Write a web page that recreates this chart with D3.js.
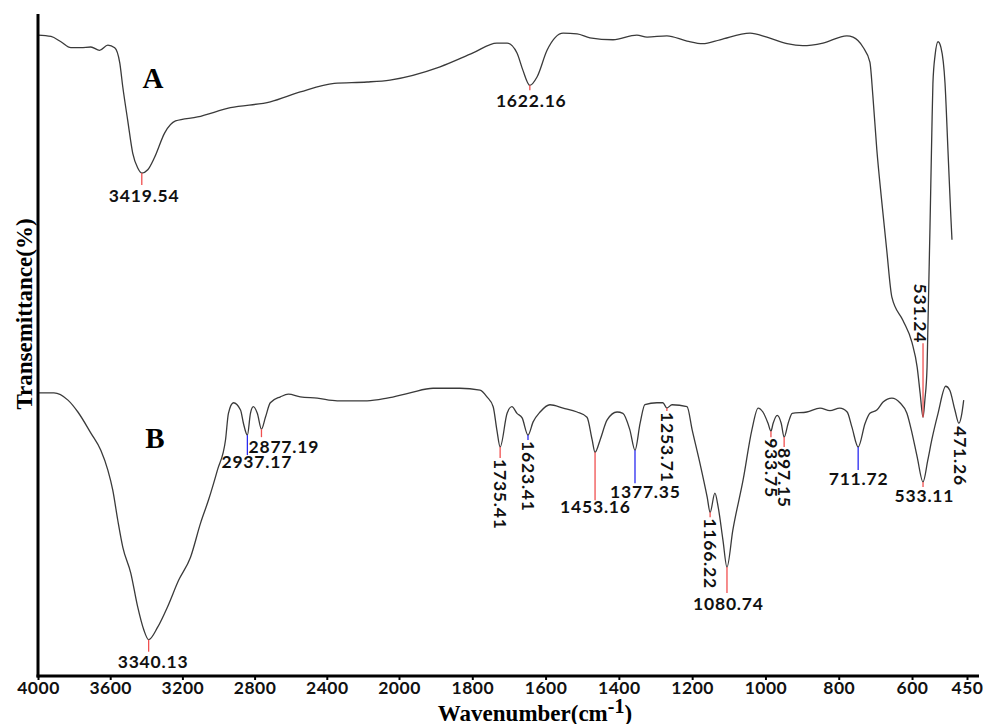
<!DOCTYPE html>
<html>
<head>
<meta charset="utf-8">
<script src="https://cdn.jsdelivr.net/npm/d3@7"></script>
<style>
  html, body { margin: 0; padding: 0; background: #fff; }
  svg { display: block; }
</style>
</head>
<body>
<div id="chart"></div>
<script>
// ---------------- DATA ----------------
// Curve A: wavenumber (cm-1) and transmittance (arbitrary %, offset spectrum)
const wnA = [4000,3928,3873,3818,3762,3707,3659,3613,3575,3547,3530,3503,3475,3448,3425,3392,3354,3298,3238,3116,2934,2713,2547,2359,2177,2050,
  1888,1798,1733,1705,1678,1662,1643,1623,1596,1552,1514,1479,1416,1351,1323,1269,1214,1171,1124,1042,996,941,898,843,778,761,734,715,707,696,683,669,655,
  625,600,586,578,570,565,559,557,554,551,546,543,537,529,521,510,502,494,491];
const tA = [97.1,96.9,96.1,95.2,95.2,95.3,94.8,95.6,95.2,92.9,89.2,84.2,79.2,77.0,76.2,76.7,78.6,82.3,84.1,84.7,86.1,87.0,88.5,89.8,90.0,90.3,
  92.3,94.4,95.9,95.9,94.4,91.8,89.5,90.8,94.8,97.4,97.3,96.7,96.4,97.1,96.8,97.0,96.2,95.8,96.4,97.4,96.8,95.8,95.5,95.9,97.0,96.8,95.3,93.0,88.0,79.7,72.1,64.5,57.4,
  53.9,50.5,46.8,42.9,39.2,41.8,46.8,52.0,60.0,68.0,82.3,89.8,94.1,96.1,95.2,89.8,79.7,69.5,66.1];

// Curve B
const wnB = [4000,3912,3834,3779,3707,3652,3613,3586,3558,3530,3486,3448,3414,3387,3337,3282,3221,3155,3099,3055,3006,2961,2945,2917,2878,2862,2840,2823,2807,2785,2762,2740,2713,2657,2613,2547,2453,2342,2177,2066,
  1970,1907,1834,1779,1760,1743,1733,1724,1705,1692,1678,1664,1648,1634,1615,1588,1552,1514,1487,1473,1465,1451,1432,1405,1389,1370,1356,1342,1329,1296,1280,1269,1255,1214,1200,1179,1159,1151,1138,1129,1116,1105,1089,1061,1037,1020,1007,993,985,979,968,957,949,938,927,887,851,824,797,777,764,747,728,715,696,679,655,633,614,600,586,570,557,546,529,508,497,483,472,464,459];
const tB = [42.9,42.9,41.8,40.0,36.8,34.2,31.2,28.2,23.6,19.5,15.6,10.5,7.0,5.5,7.4,10.5,14.5,18.0,23.2,26.7,31.2,35.8,39.8,41.4,40.3,38.3,36.5,39.8,40.8,39.8,37.4,39.2,41.4,42.3,42.7,42.3,42.1,41.7,41.7,42.1,
  42.9,43.6,43.6,43.3,42.3,40.8,37.3,34.7,39.8,40.8,39.8,39.1,36.5,38.5,40.0,41.1,40.6,40.0,39.2,35.8,33.9,35.8,38.8,40.0,39.8,37.3,34.2,38.3,41.1,41.4,41.4,40.6,41.1,40.8,37.3,32.3,27.1,24.8,27.7,25.6,20.6,16.5,22.1,29.7,37.3,40.6,40.0,38.3,37.1,38.3,39.5,38.3,36.2,38.3,39.8,40.0,40.6,40.2,40.6,40.0,37.7,34.7,38.3,39.8,40.3,41.5,42.1,41.4,39.8,36.8,33.2,29.4,32.7,35.8,39.8,43.9,43.3,40.3,38.3,39.8,41.8];

// Peak annotations
const peakSeries = ["A","A","A","B","B","B","B","B","B","B","B","B","B","B","B","B","B","B"];
const peakText   = ["3419.54","1622.16","531.24","3340.13","2937.17","2877.19","1735.41","1623.41","1453.16","1377.35","1253.71","1166.22","1080.74","933.75","897.15","711.72","533.11","471.26"];
const peakWn     = [3425,1643,570,3387,2840,2762,1724,1648,1465,1356,1269,1151,1105,985,949,747,570,472];

// Axis tick labels
const xTicks = [4000,3600,3200,2800,2400,2000,1800,1600,1400,1200,1000,800,600,450];
const seriesNames = ["A","B"];

// ---------------- LAYOUT / STYLE ----------------
const W = 983, H = 724;
const RED = "#f05050", BLUE = "#2a2af0";
// per-peak label layout: line length (px, + down), colour, orientation, label dx, gap
const peakLayout = [
  {len:12, c:RED, rot:false, dx:2, gap:17},
  {len:5,  c:RED, rot:false, dx:1, gap:17},
  {len:-74,c:RED, rot:true,  dx:-3, gap:0},
  {len:12, c:RED, rot:false, dx:4, gap:16},
  {len:20, c:BLUE,rot:false, dx:9, gap:13},
  {len:8,  c:RED, rot:false, dx:22, gap:16},
  {len:11, c:RED, rot:true,  dx:0, gap:1},
  {len:5,  c:BLUE,rot:true,  dx:0, gap:1},
  {len:48, c:RED, rot:false, dx:0, gap:13},
  {len:33, c:BLUE,rot:false, dx:10, gap:15},
  {len:3,  c:RED, rot:true,  dx:0, gap:1},
  {len:5,  c:RED, rot:true,  dx:0, gap:1},
  {len:26, c:RED, rot:false, dx:1, gap:17},
  {len:6,  c:RED, rot:true,  dx:0, gap:1},
  {len:10, c:RED, rot:true,  dx:0, gap:1},
  {len:23, c:BLUE,rot:false, dx:0, gap:15},
  {len:5,  c:RED, rot:false, dx:1, gap:15},
  {len:1,  c:"none", rot:true, dx:1, gap:2}
];

const svg = d3.select("#chart").append("svg")
  .attr("width", W).attr("height", H)
  .style("background", "#fff");

// Piecewise x scale (FTIR style: scale change at 2000 cm-1)
const x = d3.scaleLinear().domain([4000, 2000, 450]).range([38, 399, 967]);
const y = d3.scaleLinear().domain([0, 100]).range([676, 16]);

const line = d3.line().x(d => x(d[0])).y(d => y(d[1])).curve(d3.curveMonotoneX);

const seriesData = {
  A: wnA.map((w, i) => [w, tA[i]]),
  B: wnB.map((w, i) => [w, tB[i]])
};

// curves
svg.append("g").selectAll("path").data(seriesNames).join("path")
  .attr("d", s => line(seriesData[s]))
  .attr("fill", "none")
  .attr("stroke", "#3a3a3a")
  .attr("stroke-width", 1.3)
  .attr("stroke-linejoin", "round");

// series letters
const letterPos = {A: [3363, 89.1], B: [3352, 34.5]};
svg.append("g").selectAll("text").data(seriesNames).join("text")
  .attr("x", s => x(letterPos[s][0]))
  .attr("y", s => y(letterPos[s][1]))
  .attr("text-anchor", "middle")
  .attr("font-family", "'Liberation Serif', 'Times New Roman', serif")
  .attr("font-weight", "bold")
  .attr("font-size", 29)
  .attr("fill", "#000")
  .text(s => s);

// peak markers and labels
const labelFont = "Lato, 'Open Sans', sans-serif";
const pk = svg.append("g");
peakText.forEach((txt, i) => {
  const data = seriesData[peakSeries[i]];
  const pt = data.find(d => d[0] === peakWn[i]);
  const px = x(pt[0]), py = y(pt[1]);
  const L = peakLayout[i];
  const yEnd = py + L.len;
  if (L.c !== "none") {
    pk.append("line")
      .attr("x1", px).attr("x2", px)
      .attr("y1", py).attr("y2", yEnd)
      .attr("stroke", L.c).attr("stroke-width", 1.3);
  }
  const t = pk.append("text")
    .attr("font-family", labelFont)
    .attr("font-weight", "bold")
    .attr("font-size", 17.5)
    .attr("letter-spacing", "0.8px")
    .attr("fill", "#111")
    .text(txt);
  if (L.rot) {
    const ty = L.len < 0 ? yEnd - L.gap : yEnd + L.gap;
    t.attr("transform", `translate(${px + L.dx},${ty}) rotate(90)`)
     .attr("text-anchor", L.len < 0 ? "end" : "start")
     .attr("dy", "0.36em");
  } else {
    t.attr("x", px + L.dx + 0.4).attr("y", yEnd + L.gap)
     .attr("text-anchor", "middle");
  }
});

// axes
const xAxis = d3.axisBottom(x).tickValues(xTicks).tickFormat(d3.format("d"))
  .tickSize(4).tickSizeOuter(0).tickPadding(2);
const gx = svg.append("g").attr("transform", "translate(0,676)").call(xAxis);
gx.select(".domain").remove();
gx.selectAll(".tick line").attr("stroke", "#000").attr("stroke-width", 2);
gx.selectAll(".tick text")
  .attr("font-family", labelFont)
  .attr("font-weight", "bold")
  .attr("font-size", 17.5)
  .attr("letter-spacing", "0.5px")
  .attr("fill", "#111");

// axis lines (left and bottom)
svg.append("line").attr("x1", 38).attr("x2", 38).attr("y1", 14).attr("y2", 677.5)
  .attr("stroke", "#000").attr("stroke-width", 3);
svg.append("line").attr("x1", 36.5).attr("x2", 979).attr("y1", 676).attr("y2", 676)
  .attr("stroke", "#000").attr("stroke-width", 3);

// axis titles
const xt = svg.append("text")
  .attr("x", 535).attr("y", 720.5)
  .attr("text-anchor", "middle")
  .attr("font-family", "'Liberation Serif', 'Times New Roman', serif")
  .attr("font-weight", "bold")
  .attr("font-size", 23)
  .attr("fill", "#000");
xt.append("tspan").text("Wavenumber(cm");
xt.append("tspan").attr("dy", -8).attr("font-size", 20).text("-1");
xt.append("tspan").attr("dy", 8).text(")");

svg.append("text")
  .attr("transform", "translate(32,314) rotate(-90)")
  .attr("text-anchor", "middle")
  .attr("font-family", "'Liberation Serif', 'Times New Roman', serif")
  .attr("font-weight", "bold")
  .attr("font-size", 23)
  .attr("fill", "#000")
  .text("Transemittance(%)");
</script>
</body>
</html>
